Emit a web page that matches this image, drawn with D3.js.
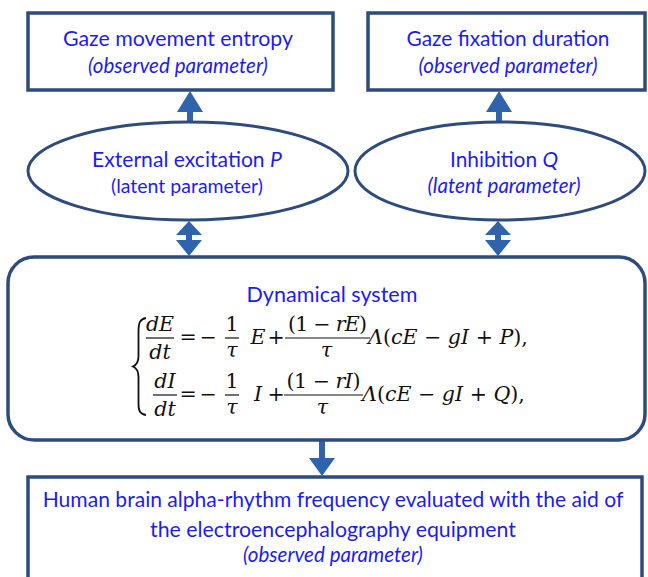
<!DOCTYPE html>
<html>
<head>
<meta charset="utf-8">
<script src="https://cdn.jsdelivr.net/npm/d3@7"></script>
<style>
  body { margin: 0; background: #fff; }
</style>
</head>
<body>
<div id="chart"></div>
<script>
// text of the diagram
var observedNames = ["Gaze movement entropy", "Gaze fixation duration"];
var observedNote = "(observed parameter)";
var latentNames = ["External excitation ", "Inhibition "];
var latentSymbols = ["P", "Q"];
var latentNote = "(latent parameter)";
var latentNoteItalic = [false, true];
var systemTitle = "Dynamical system";
var eqLhsNum = ["dE", "dI"];
var eqLhsDen = ["dt", "dt"];
var eqVar = ["E", "I"];
var eqNum = ["(1 − rE)", "(1 − rI)"];
var eqTail = ["Λ(cE − gI + P),", "Λ(cE − gI + Q),"];
var outputLines = [
    "Human brain alpha-rhythm frequency evaluated with the aid of",
    "the electroencephalography equipment",
    "(observed parameter)"
];

var svgWidth = 648;
var svgHeight = 577;

var borderColor = "#2d4b7c";
var arrowColor = "#2f64ac";
var textColor = "#1c1cf2";
var sansFont = "Lato, 'Open Sans', sans-serif";
var mathFont = "'DejaVu Serif', serif";
var mathSize = 18;

// layout
var topBoxes = [{x: 28, y: 13, w: 305, h: 77}, {x: 368, y: 13, w: 277, h: 77}];
var topText = [{cx: 178, w1: 230, w2: 180}, {cx: 508, w1: 203, w2: 179}];
var ellipses = [{cx: 188, cy: 171, rx: 160, ry: 49}, {cx: 500, cy: 171, rx: 145, ry: 49}];
var ellText = [{cx: 187, w1: 190, w2: 152}, {cx: 504, w1: 108, w2: 153}];
var arrowX = [190, 499];
var sysBox = {x: 8, y: 257, w: 637, h: 183, r: 26};
var outBox = {x: 28, y: 477, w: 614, h: 120};

var svg = d3.select("#chart")
    .append("svg")
    .attr("width", svgWidth)
    .attr("height", svgHeight);

// fit a text element to a measured width
function fit(sel, width) {
    sel.each(function() {
        var t = d3.select(this);
        var w = this.getComputedTextLength();
        var fs = parseFloat(t.attr("font-size"));
        t.attr("font-size", (fs * width / w).toFixed(2));
    });
}

function label(x, y, str, size, italic) {
    return svg.append("text")
        .attr("x", x)
        .attr("y", y)
        .attr("text-anchor", "middle")
        .attr("font-family", sansFont)
        .attr("font-size", size)
        .attr("font-style", italic ? "italic" : "normal")
        .attr("fill", textColor)
        .text(str);
}

// arrows
function arrowHead(x, base, tip) {
    svg.append("path")
        .attr("d", "M" + (x - 13) + "," + base + "L" + (x + 13) + "," + base + "L" + x + "," + tip + "Z")
        .attr("fill", arrowColor);
}
function shaft(x, y1, y2) {
    svg.append("rect")
        .attr("x", x - 3).attr("y", Math.min(y1, y2))
        .attr("width", 6).attr("height", Math.abs(y2 - y1))
        .attr("fill", arrowColor);
}

arrowX.forEach(function(x) {
    // up to observed box
    shaft(x, 110, 124);
    arrowHead(x, 112, 91);
    // double arrow between ellipse and system
    shaft(x - 1, 234, 242);
    arrowHead(x - 1, 235, 221);
    arrowHead(x - 1, 240, 256);
});
shaft(322, 440, 460);
arrowHead(322, 458, 476);

// top observed boxes
svg.selectAll("rect.obs")
    .data(topBoxes)
    .enter()
    .append("rect")
    .classed("obs", true)
    .attr("x", function(d) { return d.x; })
    .attr("y", function(d) { return d.y; })
    .attr("width", function(d) { return d.w; })
    .attr("height", function(d) { return d.h; })
    .attr("fill", "#fff")
    .attr("stroke", borderColor)
    .attr("stroke-width", 3.5);

observedNames.forEach(function(name, i) {
    fit(label(topText[i].cx, 46, name, 19, false), topText[i].w1);
    fit(label(topText[i].cx, 73, observedNote, 16, true), topText[i].w2);
});

// latent ellipses
svg.selectAll("ellipse")
    .data(ellipses)
    .enter()
    .append("ellipse")
    .attr("cx", function(d) { return d.cx; })
    .attr("cy", function(d) { return d.cy; })
    .attr("rx", function(d) { return d.rx; })
    .attr("ry", function(d) { return d.ry; })
    .attr("fill", "#fff")
    .attr("stroke", borderColor)
    .attr("stroke-width", 3);

latentNames.forEach(function(name, i) {
    var t = label(ellText[i].cx, 167, name, 19, false);
    t.append("tspan").attr("font-style", "italic").text(latentSymbols[i]);
    fit(t, ellText[i].w1);
    fit(label(ellText[i].cx, 193, latentNote, 16, latentNoteItalic[i]), ellText[i].w2);
});

// dynamical system box
svg.append("rect")
    .attr("x", sysBox.x).attr("y", sysBox.y)
    .attr("width", sysBox.w).attr("height", sysBox.h)
    .attr("rx", sysBox.r).attr("ry", sysBox.r)
    .attr("fill", "#fff")
    .attr("stroke", borderColor)
    .attr("stroke-width", 3.5);

fit(label(332, 302, systemTitle, 19, false), 171);

// math text: letters italic, the rest upright
function math(x, y, str, anchor) {
    var t = svg.append("text")
        .attr("x", x).attr("y", y)
        .attr("text-anchor", anchor || "middle")
        .attr("font-family", mathFont)
        .attr("font-size", mathSize)
        .attr("fill", "#111");
    var runs = str.match(/[A-Za-zΛτ]+|[^A-Za-zΛτ]+/g);
    runs.forEach(function(r) {
        t.append("tspan")
            .attr("font-style", /[A-Za-zΛτ]/.test(r) ? "italic" : "normal")
            .text(r);
    });
    return t;
}
function fracLine(x1, x2, y) {
    svg.append("line")
        .attr("x1", x1).attr("x2", x2)
        .attr("y1", y).attr("y2", y)
        .attr("stroke", "#111").attr("stroke-width", 1.2);
}

// size the math font so the first tail matches its measured width
var probe = math(0, -50, eqTail[0], "start");
mathSize = +(mathSize * 160 / probe.node().getComputedTextLength()).toFixed(2);
probe.remove();

var axisY = [338, 395];
var lhsLine = [[146, 174], [153, 177]];
var numLine = [[285, 370], [284, 363]];
var numW = [79, 74];
var tailX = [368, 362];

eqLhsNum.forEach(function(num, i) {
    var a = axisY[i];
    var lc = (lhsLine[i][0] + lhsLine[i][1]) / 2;
    math(lc, a - 7, num);
    math(lc, a + 21, eqLhsDen[i]);
    fracLine(lhsLine[i][0], lhsLine[i][1], a);
    math(188, a + 6, "=");
    math(208, a + 6, "−");
    math(232, a - 7, "1");
    math(232, a + 19, "τ");
    fracLine(225, 239, a);
    math(258, a + 6, eqVar[i]);
    math(276, a + 6, "+");
    var nc = (numLine[i][0] + numLine[i][1]) / 2;
    math(nc, a - 7, eqNum[i])
        .attr("textLength", numW[i])
        .attr("lengthAdjust", "spacing");
    math(nc - 1, a + 19, "τ");
    fracLine(numLine[i][0], numLine[i][1], a);
    math(tailX[i], a + 6, eqTail[i], "start");
});

// cases brace
svg.append("path")
    .attr("d", "M146,318 C140,319 138.5,323 138.5,331 L138.5,356 C138.5,362 136.5,365 133,366.5" +
               " C136.5,368 138.5,371 138.5,377 L138.5,404 C138.5,411 140,414 146,415")
    .attr("fill", "none")
    .attr("stroke", "#111")
    .attr("stroke-width", 1.8);

// output box
svg.append("rect")
    .attr("x", outBox.x).attr("y", outBox.y)
    .attr("width", outBox.w).attr("height", outBox.h)
    .attr("fill", "#fff")
    .attr("stroke", borderColor)
    .attr("stroke-width", 3.5);

var outY = [507, 537, 562];
var outW = [581, 366, 180];
outputLines.forEach(function(line, i) {
    fit(label(333, outY[i], line, i < 2 ? 19 : 16, i === 2), outW[i]);
});
</script>
</body>
</html>
